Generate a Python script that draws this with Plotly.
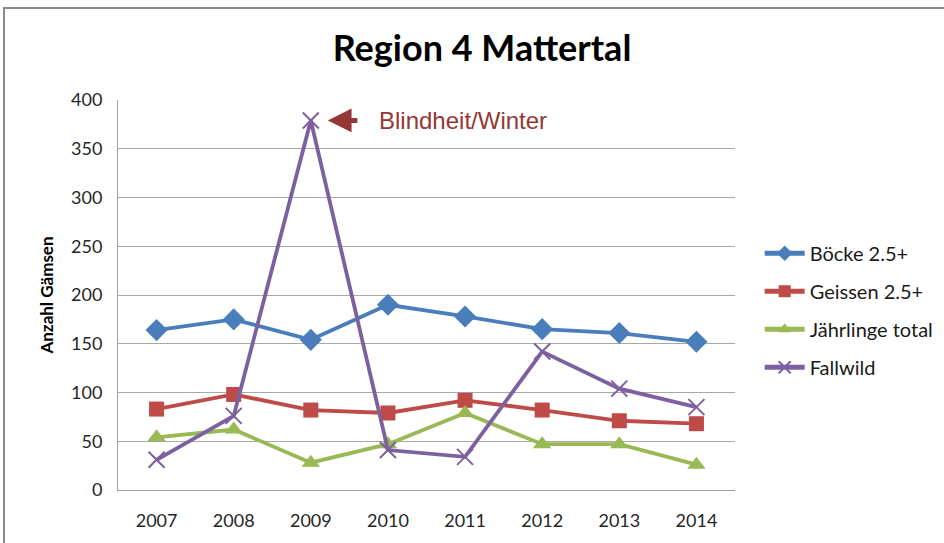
import plotly.graph_objects as go

years = ["2007", "2008", "2009", "2010", "2011", "2012", "2013", "2014"]
boecke = [164, 175, 154, 190, 178, 165, 161, 152]
geissen = [83, 98, 82, 79, 92, 82, 71, 68]
jaehrlinge = [54, 62, 28, 47, 79, 47, 47, 26]
fallwild = [31, 76, 379, 41, 34, 142, 104, 85]
note_text = "Blindheit/Winter"
note_year_index = 2
note_value = 379

series = [
    ("Böcke 2.5+", boecke, "#4A7EBB", dict(symbol="diamond", size=17)),
    ("Geissen 2.5+", geissen, "#BE4B48", dict(symbol="square", size=15)),
    ("Jährlinge total", jaehrlinge, "#98B954", dict(symbol="triangle-up", size=16)),
    ("Fallwild", fallwild, "#7D60A0", dict(symbol="x-thin-open", size=16, line=dict(width=2, color="#7D60A0"))),
]

fig = go.Figure()
for i, (name, vals, color, marker) in enumerate(series):
    m = dict(color=color, **marker)
    fig.add_trace(go.Scatter(
        x=years, y=vals, name=name, mode="lines+markers",
        line=dict(color=color, width=3.8), marker=m, legendgroup=f"g{i}",
    ))

FONT = "Lato, 'Open Sans', sans-serif"
fig.update_layout(
    width=944, height=543,
    margin=dict(l=118, r=209, t=100, b=53, autoexpand=False),
    paper_bgcolor="white", plot_bgcolor="white",
    title=dict(text="<b>Region 4 Mattertal</b>", x=482 / 944, xanchor="center", xref="container",
               y=0.91, yanchor="middle", font=dict(family=FONT, size=36, color="black")),
    xaxis=dict(type="category", range=[-0.5, 7.5], showgrid=False, showline=True,
               linecolor="#A0A0A0", linewidth=1, ticks="", ticklabelstandoff=14,
               tickfont=dict(family=FONT, size=18, color="#262626")),
    yaxis=dict(range=[0, 400], dtick=50, showgrid=True, gridcolor="#A8A8A8", gridwidth=1,
               showline=True, linecolor="#A0A0A0", linewidth=1, zeroline=False, ticklabelstandoff=11,
               tickfont=dict(family=FONT, size=18, color="#262626"),
               title=dict(text="<b>Anzahl Gämsen</b>", font=dict(family=FONT, size=17, color="black"), standoff=13)),
    legend=dict(x=1.040, y=0.461, xanchor="left", yanchor="middle", itemsizing="constant",
                font=dict(family=FONT, size=20, color="#1a1a1a"), tracegroupgap=9, itemwidth=40,
                bgcolor="rgba(0,0,0,0)"),
    showlegend=True,
)

fig.add_annotation(x=note_year_index, y=note_value, xref="x", yref="y", ax=48, ay=0,
                   text="", showarrow=True, arrowhead=2, arrowsize=0.95, arrowwidth=5,
                   arrowcolor="#953735", standoff=17)
fig.add_annotation(x=note_year_index, y=note_value, xref="x", yref="y", xshift=66, text=note_text,
                   showarrow=False, xanchor="left", yanchor="middle",
                   font=dict(family="'Liberation Sans', Arial, sans-serif", size=24, color="#953735"))

fig.add_shape(type="rect", xref="paper", yref="paper",
              x0=(4 - 118) / 617, x1=(960 - 118) / 617, y0=(490 - 560) / 390, y1=(490 - 8) / 390,
              line=dict(color="#8C8C8C", width=2), fillcolor="rgba(0,0,0,0)", layer="below")

fig.write_html("out.html", config={"displayModeBar": False},
               post_script="document.body.style.margin='0px';")
